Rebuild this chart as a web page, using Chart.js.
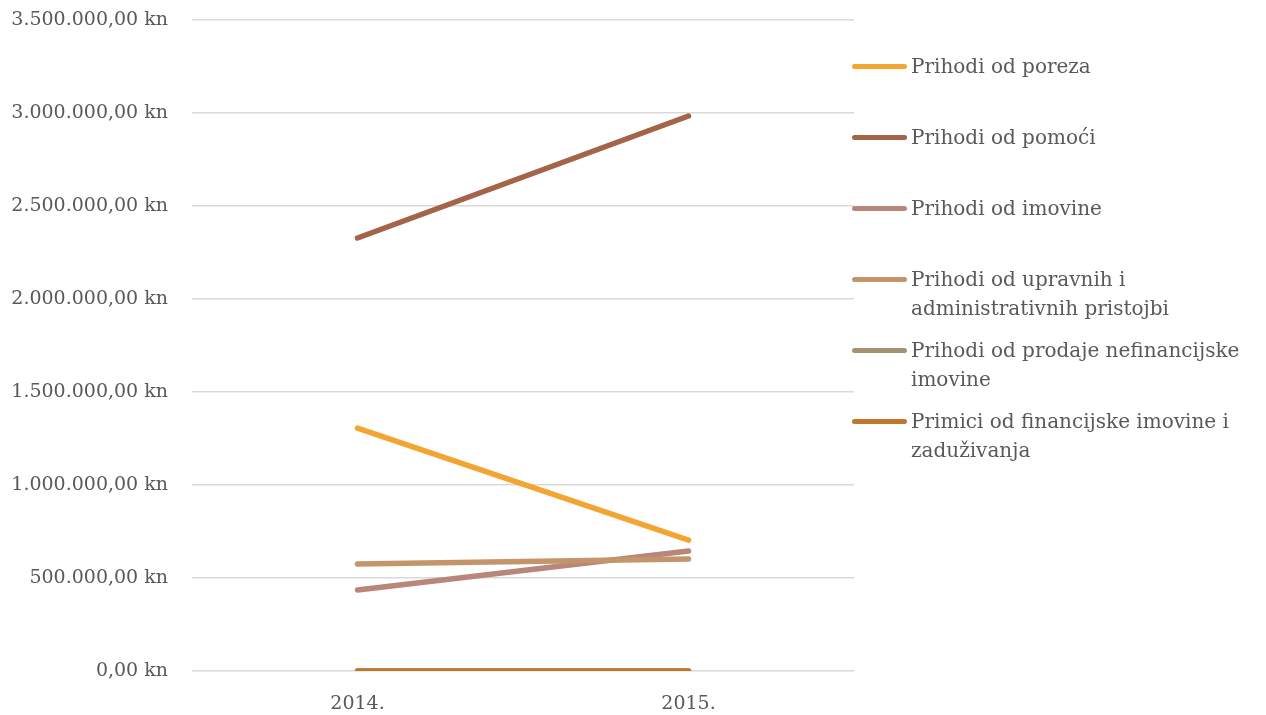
<!DOCTYPE html>
<html>
<head>
<meta charset="utf-8">
<script src="https://cdn.jsdelivr.net/npm/chart.js@4/dist/chart.umd.min.js"></script>
<style>
  body { margin: 0; background: #fff; }
  #wrap { position: relative; width: 1266px; height: 715px; }
  #legend { position: absolute; left: 852px; top: 0; font-family: "DejaVu Serif", serif; font-size: 20px; color: #595959; }
  .item { position: absolute; left: 0; width: 414px; }
  .item .swatch { position: absolute; left: 0; top: 12px; width: 55px; height: 5px; border-radius: 3px; }
  .item .txt { position: absolute; left: 59px; white-space: pre; line-height: 29px; }
</style>
</head>
<body>
<div id="wrap">
  <canvas id="chart" width="1266" height="715"></canvas>
  <div id="legend"></div>
</div>
<script>
let years = ['2014.', '2015.'];
let seriesNames = [
    'Prihodi od poreza',
    'Prihodi od pomoći',
    'Prihodi od imovine',
    'Prihodi od upravnih i\nadministrativnih pristojbi',
    'Prihodi od prodaje nefinancijske\nimovine',
    'Primici od financijske imovine i\nzaduživanja'
];
let poreza = [1306000, 704000];
let pomoci = [2328000, 2984000];
let imovine = [436000, 645000];
let upravnih = [575000, 602000];
let prodaje = [0, 0];
let financijske = [0, 0];
let colors = ['#F2A531', '#A5634A', '#B8877A', '#C4956A', '#A39373', '#C0762B'];

let values = [poreza, pomoci, imovine, upravnih, prodaje, financijske];

function kn(v) {
    let s = Math.round(v).toString().replace(/\B(?=(\d{3})+(?!\d))/g, '.');
    return s + ',00 kn';
}

let fontFamily = '"DejaVu Serif", serif';

let datasets = values.map((data, i) => ({
    label: seriesNames[i],
    data: data,
    borderColor: colors[i],
    backgroundColor: colors[i],
    borderWidth: 5.5,
    borderCapStyle: 'round',
    pointRadius: 0,
    tension: 0,
    fill: false,
    order: values.length - i
}));

let canvas = document.getElementById('chart');
let chart = new Chart(canvas, {
    type: 'line',
    data: { labels: years, datasets: datasets },
    options: {
        responsive: false,
        animation: false,
        devicePixelRatio: 1,
        layout: { padding: { top: 20, right: 412, bottom: 0, left: 0 } },
        plugins: { legend: { display: false }, tooltip: { enabled: false } },
        scales: {
            x: {
                offset: true,
                grid: { display: false },
                border: { display: false },
                ticks: { color: '#595959', font: { family: fontFamily, size: 19 }, padding: 14 },
                afterFit: (scale) => { scale.height = 44; }
            },
            y: {
                min: 0,
                max: 3500000,
                grid: { color: '#d9d9d9', lineWidth: 1.5, drawTicks: false },
                border: { display: false },
                ticks: {
                    stepSize: 500000,
                    color: '#595959',
                    font: { family: fontFamily, size: 19 },
                    padding: 24,
                    callback: (v) => kn(v)
                },
                afterFit: (scale) => {
                    scale.width = 192;
                    scale.paddingTop = 0;
                    scale.paddingBottom = 0;
                }
            }
        }
    }
});

let legend = document.getElementById('legend');
seriesNames.forEach((name, i) => {
    let item = document.createElement('div');
    item.className = 'item';
    item.style.top = (52 + 71 * i) + 'px';
    let sw = document.createElement('div');
    sw.className = 'swatch';
    sw.style.background = colors[i];
    let t = document.createElement('div');
    t.className = 'txt';
    t.textContent = name;
    item.appendChild(sw);
    item.appendChild(t);
    legend.appendChild(item);
});
</script>
</body>
</html>
